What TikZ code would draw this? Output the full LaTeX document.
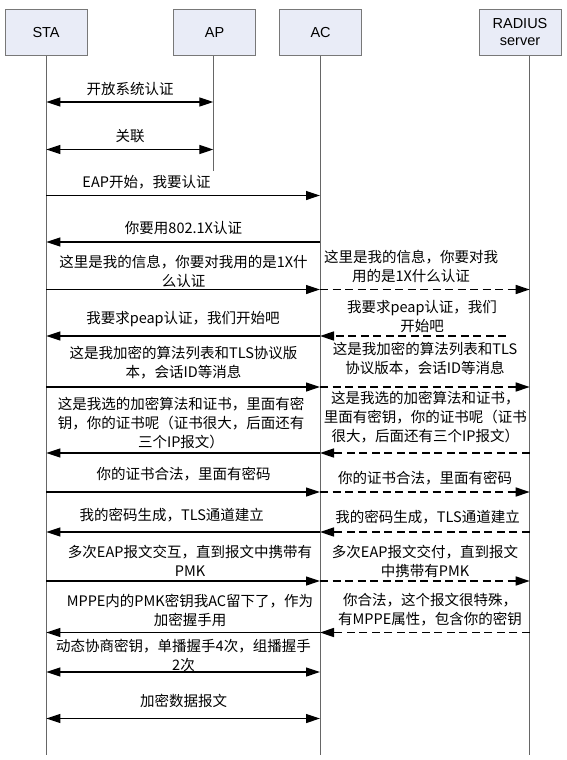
\documentclass[tikz,border=0pt]{standalone}
\usepackage{fontspec}
\setmainfont{Noto Sans CJK SC}
\newfontfamily\boxfont{Liberation Sans}
\usepackage{tikz}
\usetikzlibrary{arrows.meta}
\definecolor{boxfill}{RGB}{233,236,247}
\definecolor{boxline}{RGB}{120,120,120}

\begin{document}
\begin{tikzpicture}[x=1pt, y=-1pt,
    lane/.style={draw=boxline, fill=boxfill, line width=0.9pt, minimum width=82pt, minimum height=46pt, align=center, font=\boxfont\fontsize{14.5}{17}\selectfont},
    life/.style={draw=black!60, line width=0.9pt},
    msg/.style={line width=1.2pt, -{Triangle[length=14pt, width=9pt]}},
    both/.style={line width=1.2pt, {Triangle[length=14pt, width=9pt]}-{Triangle[length=14pt, width=9pt]}},
    relay/.style={msg, line width=1.5pt, dash pattern=on 8pt off 4.5pt},
    lbl/.style={inner sep=0pt, align=center, font=\fontsize{14.5}{19}\selectfont}]
    \useasboundingbox (0,0) rectangle (567,760);
    \node[lane] (sta) at (46.1,32.5) {STA};
    \node[lane] (ap) at (214.6,32.5) {AP};
    \node[lane] (ac) at (320.6,32.5) {AC};
    \node[lane] (rad) at (520,32.5) {RADIUS\\server};
    \coordinate (staL) at (46.3,755);
    \coordinate (apL) at (213.3,171);
    \coordinate (acL) at (320,755);
    \coordinate (radL) at (529.7,755);
    \coordinate (peapS) at (506,336);
    \draw[life] (sta.south -| staL) -- (staL);
    \draw[life] (ap.south -| apL) -- (apL);
    \draw[life] (ac.south -| acL) -- (acL);
    \draw[life] (rad.south -| radL) -- (radL);

    \draw[both] (staL |- 0,102) -- (apL |- 0,102);
    \node[lbl] (open) at (130,89) {开放系统认证};
    \draw[both] (staL |- 0,149.5) -- (apL |- 0,149.5);
    \node[lbl] (assoc) at (130,136) {关联};
    \draw[msg] (staL |- 0,195.5) -- (acL |- 0,195.5);
    \node[lbl] (eapstart) at (146.5,182.5) {EAP开始，我要认证};
    \draw[msg] (acL |- 0,242) -- (staL |- 0,242);
    \node[lbl] (askid) at (183.5,228) {你要用802.1X认证};

    \draw[msg] (staL |- 0,289.5) -- (acL |- 0,289.5);
    \node[lbl] (idsta) at (183.5,271.5) {这里是我的信息，你要对我用的是1X什\\么认证};
    \draw[relay] (acL |- 0,289.5) -- (radL |- 0,289.5);
    \node[lbl] (idrad) at (411,266) {这里是我的信息，你要对我\\用的是1X什么认证};

    \draw[msg] (acL |- 0,336) -- (staL |- 0,336);
    \node[lbl] (peapsta) at (183,319) {我要求peap认证，我们开始吧};
    \draw[relay] (peapS) -- (acL |- peapS);
    \node[lbl] (peaprad) at (422,317) {我要求peap认证，我们\\开始吧};

    \draw[msg] (staL |- 0,387) -- (acL |- 0,387);
    \node[lbl] (hellosta) at (183.5,363) {这是我加密的算法列表和TLS协议版\\本，会话ID等消息};
    \draw[relay] (acL |- 0,387) -- (radL |- 0,387);
    \node[lbl] (hellorad) at (425,359) {这是我加密的算法列表和TLS\\协议版本，会话ID等消息};

    \draw[msg] (acL |- 0,453) -- (staL |- 0,453);
    \node[lbl] (certsta) at (181,423) {这是我选的加密算法和证书，里面有密\\钥，你的证书呢（证书很大，后面还有\\三个IP报文）};
    \draw[relay] (radL |- 0,453) -- (acL |- 0,453);
    \node[lbl] (certrad) at (425.4,417.5) {这是我选的加密算法和证书，\\里面有密钥，你的证书呢（证书\\很大，后面还有三个IP报文）};

    \draw[msg] (staL |- 0,492) -- (acL |- 0,492);
    \node[lbl] (oksta) at (183.5,474.5) {你的证书合法，里面有密码};
    \draw[relay] (acL |- 0,492) -- (radL |- 0,492);
    \node[lbl] (okrad) at (425,478) {你的证书合法，里面有密码};

    \draw[msg] (acL |- 0,532) -- (staL |- 0,532);
    \node[lbl] (tlssta) at (171.8,515) {我的密码生成，TLS通道建立};
    \draw[relay] (radL |- 0,532) -- (acL |- 0,532);
    \node[lbl] (tlsrad) at (427.6,517) {我的密码生成，TLS通道建立};

    \draw[msg] (staL |- 0,581) -- (acL |- 0,581);
    \node[lbl] (eapsta) at (190,561) {多次EAP报文交互，直到报文中携带有\\PMK};
    \draw[relay] (acL |- 0,581) -- (radL |- 0,581);
    \node[lbl] (eaprad) at (425,561) {多次EAP报文交付，直到报文\\中携带有PMK};

    \draw[msg] (acL |- 0,632.5) -- (staL |- 0,632.5);
    \node[lbl] (pmksta) at (190,610) {MPPE内的PMK密钥我AC留下了，作为\\加密握手用};
    \draw[relay] (radL |- 0,632.5) -- (acL |- 0,632.5);
    \node[lbl] (pmkrad) at (430,610) {你合法，这个报文很特殊，\\有MPPE属性，包含你的密钥};

    \draw[both] (staL |- 0,672) -- (acL |- 0,672);
    \node[lbl] (shake) at (183.5,655) {动态协商密钥，单播握手4次，组播握手\\2次};
    \draw[both] (staL |- 0,718.5) -- (acL |- 0,718.5);
    \node[lbl] (data) at (183.5,701) {加密数据报文};
\end{tikzpicture}
\end{document}
